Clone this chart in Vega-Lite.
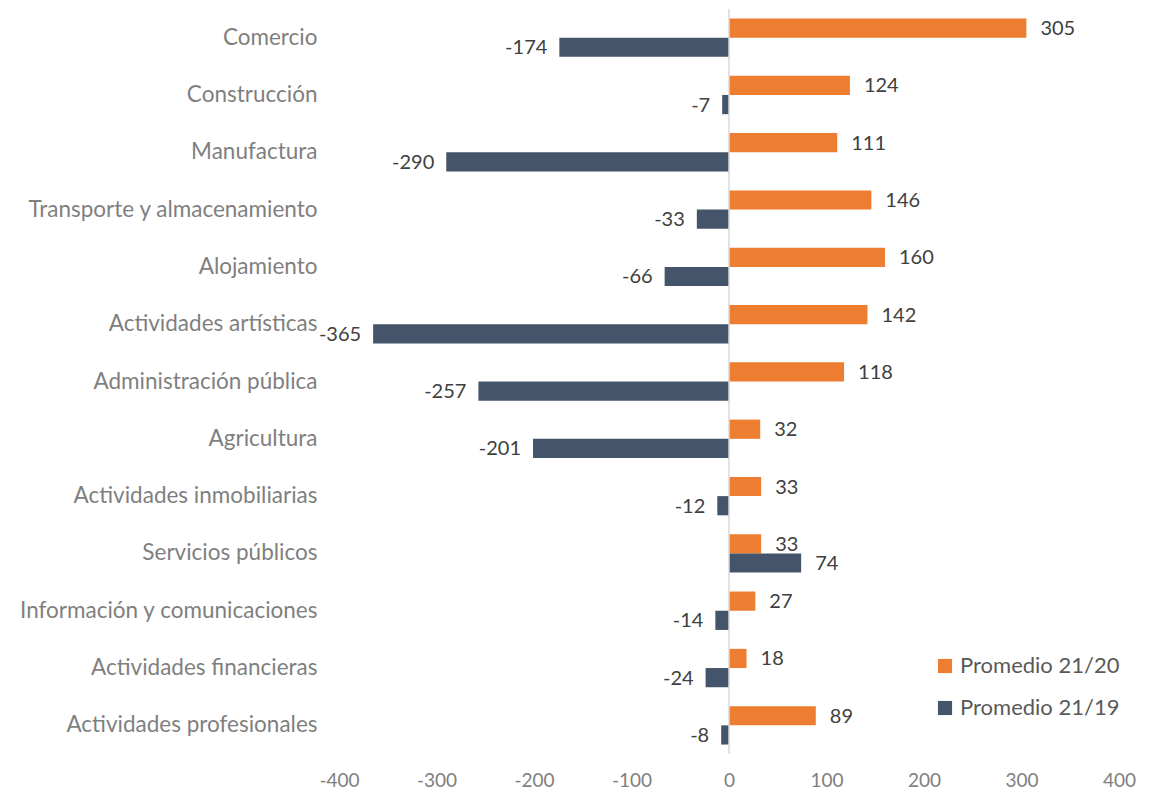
{
  "$schema": "https://vega.github.io/schema/vega-lite/v6.json",
  "width": 780,
  "height": 745,
  "autosize": {"type": "none"},
  "padding": {"left": 339, "top": 9, "right": 51, "bottom": 44},
  "background": "white",
  "config": {
    "font": "Lato",
    "view": {"stroke": null},
    "locale": {
      "number": {"decimal": ".", "thousands": ",", "grouping": [3], "currency": ["$", ""], "minus": "-"}
    }
  },
  "data": {
    "values": [
      {"sector": "Comercio", "serie": "Promedio 21/20", "valor": 305},
      {"sector": "Comercio", "serie": "Promedio 21/19", "valor": -174},
      {"sector": "Construcción", "serie": "Promedio 21/20", "valor": 124},
      {"sector": "Construcción", "serie": "Promedio 21/19", "valor": -7},
      {"sector": "Manufactura", "serie": "Promedio 21/20", "valor": 111},
      {"sector": "Manufactura", "serie": "Promedio 21/19", "valor": -290},
      {"sector": "Transporte y almacenamiento", "serie": "Promedio 21/20", "valor": 146},
      {"sector": "Transporte y almacenamiento", "serie": "Promedio 21/19", "valor": -33},
      {"sector": "Alojamiento", "serie": "Promedio 21/20", "valor": 160},
      {"sector": "Alojamiento", "serie": "Promedio 21/19", "valor": -66},
      {"sector": "Actividades artísticas", "serie": "Promedio 21/20", "valor": 142},
      {"sector": "Actividades artísticas", "serie": "Promedio 21/19", "valor": -365},
      {"sector": "Administración pública", "serie": "Promedio 21/20", "valor": 118},
      {"sector": "Administración pública", "serie": "Promedio 21/19", "valor": -257},
      {"sector": "Agricultura", "serie": "Promedio 21/20", "valor": 32},
      {"sector": "Agricultura", "serie": "Promedio 21/19", "valor": -201},
      {"sector": "Actividades inmobiliarias", "serie": "Promedio 21/20", "valor": 33},
      {"sector": "Actividades inmobiliarias", "serie": "Promedio 21/19", "valor": -12},
      {"sector": "Servicios públicos", "serie": "Promedio 21/20", "valor": 33},
      {"sector": "Servicios públicos", "serie": "Promedio 21/19", "valor": 74},
      {"sector": "Información y comunicaciones", "serie": "Promedio 21/20", "valor": 27},
      {"sector": "Información y comunicaciones", "serie": "Promedio 21/19", "valor": -14},
      {"sector": "Actividades financieras", "serie": "Promedio 21/20", "valor": 18},
      {"sector": "Actividades financieras", "serie": "Promedio 21/19", "valor": -24},
      {"sector": "Actividades profesionales", "serie": "Promedio 21/20", "valor": 89},
      {"sector": "Actividades profesionales", "serie": "Promedio 21/19", "valor": -8}
    ]
  },
  "encoding": {
    "y": {
      "field": "sector",
      "type": "nominal",
      "sort": null,
      "scale": {"paddingInner": 0.33, "paddingOuter": 0.165},
      "axis": {
        "title": null,
        "domain": false,
        "ticks": false,
        "labelPadding": 22,
        "labelFontSize": 22.5,
        "labelLimit": 400,
        "labelColor": "#7f7f7f",
        "labelFont": "Lato"
      }
    },
    "yOffset": {
      "field": "serie",
      "type": "nominal",
      "sort": ["Promedio 21/20", "Promedio 21/19"]
    },
    "x": {
      "field": "valor",
      "type": "quantitative",
      "scale": {"domain": [-400, 400], "nice": false},
      "axis": {
        "title": null,
        "values": [-400, -300, -200, -100, 0, 100, 200, 300, 400],
        "format": "d",
        "domain": false,
        "ticks": false,
        "grid": false,
        "labelFlush": false,
        "labelPadding": 17,
        "labelFontSize": 19,
        "labelColor": "#7f7f7f",
        "labelFont": "Lato"
      }
    }
  },
  "layer": [
    {
      "mark": {"type": "bar"},
      "encoding": {
        "color": {
          "field": "serie",
          "type": "nominal",
          "scale": {"domain": ["Promedio 21/20", "Promedio 21/19"], "range": ["#ED7D31", "#44546A"]},
          "legend": {
            "title": null,
            "orient": "none",
            "legendX": 595,
            "legendY": 646,
            "symbolType": "square",
            "symbolSize": 200,
            "symbolStrokeWidth": 0,
            "labelFontSize": 22,
            "labelColor": "#595959",
            "labelFont": "Lato",
            "rowPadding": 20,
            "labelOffset": 4
          }
        }
      }
    },
    {
      "mark": {"type": "rule", "color": "#d9d9d9", "strokeWidth": 1.5},
      "data": {"values": [{"zero": 0}]},
      "encoding": {
        "x": {"field": "zero", "type": "quantitative"},
        "y": null,
        "yOffset": null
      }
    },
    {
      "transform": [{"filter": "datum.valor >= 0"}],
      "mark": {"type": "text", "align": "left", "baseline": "middle", "dx": 14, "dy": 1, "fontSize": 20, "color": "#404040", "font": "Lato"},
      "encoding": {"text": {"field": "valor", "type": "quantitative", "format": "d"}}
    },
    {
      "transform": [{"filter": "datum.valor < 0"}],
      "mark": {"type": "text", "align": "right", "baseline": "middle", "dx": -12, "dy": 1, "fontSize": 20, "color": "#404040", "font": "Lato"},
      "encoding": {"text": {"field": "valor", "type": "quantitative", "format": "d"}}
    }
  ]
}
